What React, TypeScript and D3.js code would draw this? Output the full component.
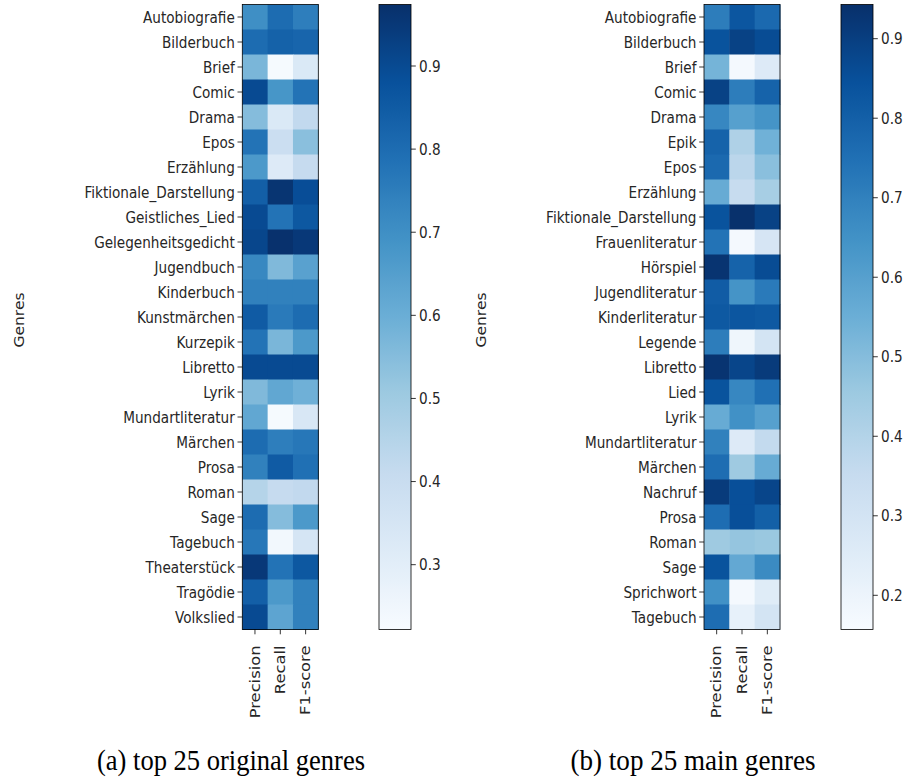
import React from "react";
import * as d3 from "d3";

const metrics = ["Precision", "Recall", "F1-score"];

const genresA = [
  "Autobiografie", "Bilderbuch", "Brief", "Comic", "Drama", "Epos", "Erzählung",
  "Fiktionale_Darstellung", "Geistliches_Lied", "Gelegenheitsgedicht", "Jugendbuch",
  "Kinderbuch", "Kunstmärchen", "Kurzepik", "Libretto", "Lyrik", "Mundartliteratur",
  "Märchen", "Prosa", "Roman", "Sage", "Tagebuch", "Theaterstück", "Tragödie", "Volkslied",
];
const precisionA = [0.7, 0.8, 0.57, 0.9, 0.55, 0.78, 0.67, 0.84, 0.9, 0.91, 0.72, 0.74, 0.85, 0.78, 0.9, 0.56, 0.62, 0.8, 0.74, 0.45, 0.8, 0.77, 0.95, 0.84, 0.9];
const recallA = [0.8, 0.83, 0.23, 0.68, 0.33, 0.39, 0.32, 0.96, 0.78, 0.97, 0.56, 0.74, 0.76, 0.57, 0.9, 0.62, 0.23, 0.75, 0.85, 0.41, 0.55, 0.24, 0.78, 0.67, 0.63];
const f1A = [0.75, 0.82, 0.33, 0.78, 0.42, 0.54, 0.41, 0.89, 0.86, 0.95, 0.64, 0.74, 0.8, 0.67, 0.9, 0.59, 0.34, 0.77, 0.79, 0.42, 0.67, 0.35, 0.86, 0.74, 0.74];
const ticksA = [0.3, 0.4, 0.5, 0.6, 0.7, 0.8, 0.9];
const domainA = [0.222, 0.974];

const genresB = [
  "Autobiografie", "Bilderbuch", "Brief", "Comic", "Drama", "Epik", "Epos", "Erzählung",
  "Fiktionale_Darstellung", "Frauenliteratur", "Hörspiel", "Jugendliteratur", "Kinderliteratur",
  "Legende", "Libretto", "Lied", "Lyrik", "Mundartliteratur", "Märchen", "Nachruf", "Prosa",
  "Roman", "Sage", "Sprichwort", "Tagebuch",
];
const precisionB = [0.71, 0.84, 0.53, 0.89, 0.68, 0.79, 0.77, 0.56, 0.84, 0.74, 0.93, 0.81, 0.82, 0.71, 0.93, 0.84, 0.56, 0.7, 0.76, 0.91, 0.76, 0.45, 0.84, 0.65, 0.76];
const recallB = [0.83, 0.89, 0.17, 0.71, 0.6, 0.41, 0.38, 0.35, 0.94, 0.17, 0.79, 0.64, 0.83, 0.19, 0.88, 0.68, 0.65, 0.26, 0.45, 0.85, 0.85, 0.47, 0.57, 0.17, 0.22];
const f1B = [0.77, 0.86, 0.26, 0.79, 0.64, 0.54, 0.49, 0.43, 0.89, 0.29, 0.86, 0.72, 0.82, 0.3, 0.91, 0.75, 0.6, 0.36, 0.56, 0.88, 0.8, 0.46, 0.67, 0.25, 0.3];
const ticksB = [0.2, 0.3, 0.4, 0.5, 0.6, 0.7, 0.8, 0.9];
const domainB = [0.157, 0.943];

const captionA = "(a) top 25 original genres";
const captionB = "(b) top 25 main genres";

const bluesStops = ["#f7fbff", "#deebf7", "#c6dbef", "#9ecae1", "#6baed6", "#4292c6", "#2171b5", "#08519c", "#08306b"];

const bluesScale = d3
  .scaleLinear<string>()
  .domain(d3.range(9).map((i) => i / 8))
  .range(bluesStops)
  .interpolate(d3.interpolateRgb)
  .clamp(true);

function blues(t: number) {
  return bluesScale(t);
}

const FONT = "DejaVu Sans, sans-serif";
const FS = 13.6;
const SY = 1.17; // vertical stretch of glyphs seen in the reference

type PanelProps = {
  genres: string[];
  series: number[][];
  ticks: number[];
  domain: number[];
  x0: number;
  cbX: number;
  labelX: number;
  caption: string;
  captionX: number;
  captionW: number;
  id: string;
};

function Panel({ genres, series, ticks, domain, x0, cbX, labelX, caption, captionX, captionW, id }: PanelProps) {
  const top = 4.5;
  const bottom = 629.5;
  const width = 76;
  const xs = d3.scaleBand().domain(metrics).range([x0, x0 + width]);
  const ys = d3.scaleBand().domain(genres).range([top, bottom]);
  const norm = d3.scaleLinear().domain(domain).range([0, 1]);
  const cbW = 32;
  const cbY = d3.scaleLinear().domain(domain).range([bottom, top]);
  const gradStops = d3.range(0, 1.0001, 1 / 64);
  return (
    <g>
      <defs>
        <linearGradient id={id} x1="0" y1="1" x2="0" y2="0">
          {gradStops.map((t, i) => (
            <stop key={i} offset={t} stopColor={blues(t)} />
          ))}
        </linearGradient>
      </defs>
      {genres.map((g, r) =>
        metrics.map((m, c) => (
          <rect
            key={g + m}
            x={xs(m)}
            y={ys(g)}
            width={xs.bandwidth() + 0.5}
            height={ys.bandwidth() + 0.5}
            fill={blues(norm(series[c][r]))}
          />
        ))
      )}
      <rect x={x0} y={top} width={width} height={bottom - top} fill="none" stroke="#000" strokeWidth={0.8} />
      {genres.map((g) => {
        const y = (ys(g) as number) + ys.bandwidth() / 2;
        return (
          <g key={g}>
            <line x1={x0 - 4.8} x2={x0} y1={y} y2={y} stroke="#000" strokeWidth={0.8} />
            <text
              transform={`translate(${x0 - 7.5},${y}) scale(1,${SY})`}
              dy="0.35em"
              textAnchor="end"
              fontFamily={FONT}
              fontSize={FS}
              fill="#262626"
            >
              {g}
            </text>
          </g>
        );
      })}
      {metrics.map((m) => {
        const x = (xs(m) as number) + xs.bandwidth() / 2;
        return (
          <g key={m}>
            <line x1={x} x2={x} y1={bottom} y2={bottom + 4.8} stroke="#000" strokeWidth={0.8} />
            <text
              transform={`translate(${x},${bottom + 16}) rotate(-90) scale(1.2,1)`}
              dy="0.35em"
              textAnchor="end"
              fontFamily={FONT}
              fontSize={FS}
              fill="#262626"
            >
              {m}
            </text>
          </g>
        );
      })}
      <text
        transform={`translate(${labelX},${(top + bottom) / 2 + 3}) rotate(-90) scale(1.14,1)`}
        textAnchor="middle"
        dy="0.35em"
        fontFamily={FONT}
        fontSize={FS}
        fill="#262626"
      >
        Genres
      </text>
      <rect x={cbX} y={top} width={cbW} height={bottom - top} fill={`url(#${id})`} stroke="#000" strokeWidth={0.8} />
      {ticks.map((t) => (
        <g key={t}>
          <line x1={cbX + cbW} x2={cbX + cbW + 4.8} y1={cbY(t)} y2={cbY(t)} stroke="#000" strokeWidth={0.8} />
          <text
            transform={`translate(${cbX + cbW + 8},${cbY(t)}) scale(1,${SY})`}
            dy="0.35em"
            fontFamily={FONT}
            fontSize={FS}
            fill="#262626"
          >
            {d3.format(".1f")(t)}
          </text>
        </g>
      ))}
      <text
        transform={`translate(${captionX},770) scale(1,1.15)`}
        textAnchor="middle"
        fontFamily="Liberation Serif, DejaVu Serif, serif"
        fontSize={26}
        textLength={captionW}
        lengthAdjust="spacingAndGlyphs"
        fill="#000"
      >
        {caption}
      </text>
    </g>
  );
}

export default function App() {
  return (
    <svg width={913} height={777} style={{ position: "absolute", left: 0, top: 0, background: "#fff" }}>
      <rect width={913} height={777} fill="#fff" />
      <Panel
        genres={genresA}
        series={[precisionA, recallA, f1A]}
        ticks={ticksA}
        domain={domainA}
        x0={242.3}
        cbX={379}
        labelX={19}
        caption={captionA}
        captionX={231}
        captionW={268}
        id="cbA"
      />
      <Panel
        genres={genresB}
        series={[precisionB, recallB, f1B]}
        ticks={ticksB}
        domain={domainB}
        x0={704}
        cbX={841}
        labelX={481}
        caption={captionB}
        captionX={693}
        captionW={245}
        id="cbB"
      />
    </svg>
  );
}
